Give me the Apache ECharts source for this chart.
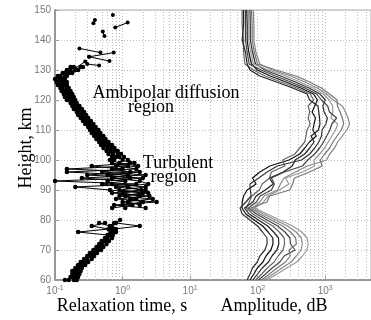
<!DOCTYPE html>
<html>
<head>
<meta charset="utf-8">
<script src="https://cdn.jsdelivr.net/npm/echarts@6/dist/echarts.min.js"></script>
<style>html,body{margin:0;padding:0;background:#fff;}#c{width:371px;height:320px;}</style>
</head>
<body>
<div id="c"></div>
<script>
// ---- Left data: relaxation time (s) vs height (km), four profiles ----
var tauHeights = [60,61,62,63,64,65,66,67,68,69,70,71,72,73,74,75,76,77,78,79,80,
  84,85,86,87,88,89,90,91,92,93,94,95,96,97,98,99,100,101,102,103,104,105,106,107,108,109,110,
  111,112,113,114,115,116,117,118,119,120,121,122,123,124,125,126,127,128,129,130,131];
var tauA = [0.16,0.17,0.18,0.2,0.21,0.22,0.24,0.27,0.3,0.33,0.37,0.41,0.45,0.49,0.55,0.6,0.22,0.62,0.35,0.55,null,
  0.7,1.4,1.0,2.8,0.9,2.0,0.65,0.2,1.6,0.1,1.3,0.6,1.8,0.15,1.2,0.7,0.75,0.7,0.62,0.58,0.52,0.48,0.45,0.41,0.38,0.35,0.33,
  0.31,0.28,0.26,0.24,0.22,0.21,0.19,0.18,0.17,0.15,0.14,0.135,0.125,0.12,0.11,0.105,0.1,0.11,0.13,0.15,0.17];
var tauB = [0.19,0.22,0.21,0.24,0.25,0.28,0.31,0.35,0.38,0.42,0.48,0.52,0.58,0.63,0.7,0.72,0.8,0.75,1.8,0.8,null,
  2.2,0.75,3.2,0.8,2.5,0.7,1.9,1.2,0.5,1.1,0.25,2.2,0.5,1.0,0.35,1.5,1.2,1.05,0.95,0.85,0.76,0.7,0.62,0.56,0.52,0.47,0.44,
  0.4,0.37,0.34,0.31,0.29,0.27,0.25,0.23,0.21,0.2,0.19,0.18,0.17,0.16,0.15,0.15,0.14,0.15,0.18,0.22,0.26];
var tauC = [0.21,0.19,0.23,0.21,0.23,0.26,0.27,0.3,0.34,0.37,0.42,0.46,0.5,0.55,0.6,0.65,0.7,0.68,0.7,0.75,0.92,
  null,1.8,1.2,1.6,1.1,2.4,0.9,2.2,0.7,0.6,2.0,0.3,1.3,0.7,1.7,0.9,0.65,0.8,0.72,0.66,0.6,0.55,0.5,0.46,0.42,0.39,0.36,
  0.33,0.31,0.28,0.26,0.24,0.22,0.21,0.19,0.18,0.17,0.16,0.15,0.14,0.13,0.125,0.12,0.115,0.12,0.14,0.17,0.19];
var tauD = [0.14,0.2,0.19,0.18,0.2,0.24,0.26,0.28,0.31,0.35,0.4,0.45,0.48,0.52,0.58,0.62,0.66,0.8,0.65,0.45,null,
  1.1,1.0,2.0,1.3,1.8,1.0,2.2,0.8,2.4,1.8,0.7,1.2,0.15,1.6,0.8,1.3,1.0,0.9,0.85,0.75,0.68,0.62,0.56,0.52,0.47,0.43,0.4,
  0.37,0.34,0.31,0.29,0.27,0.25,0.23,0.21,0.2,0.19,0.18,0.17,0.16,0.15,0.14,0.135,0.13,0.14,0.16,0.2,0.24];
// sparse points above 130 km (null separates segments)
var upperTau    = [0.72,null,0.39,0.37,null,0.78,1.19,null,0.51,0.54,null,0.23,0.47,null,0.32,0.74,null,0.32,0.64,null,0.2,0.28,null,0.3,0.45];
var upperHeight = [148.3,null,146.7,145.6,null,144.2,145.8,null,142.8,141.3,null,137.2,135.8,null,134.4,135.8,null,134.4,133,null,130.6,132.8,null,132,131.5];

// ---- Right data: amplitude profiles vs height (km) ----
var ampHeights = [60,62,64,66,68,70,72,74,76,78,80,82,84,86,88,90,92,94,96,98,100,102,104,106,108,110,112,114,116,118,120,122,124,126,128,130,132,136,140,145,150];
var amp1 = [77,88,99,120,133,157,169,168,143,119,89,67,59,59,62,70,95,84,108,152,291,421,499,585,740,656,685,720,640,700,770,673,437,263,154,99,81,74,70,70,69];
var amp2 = [94,115,139,176,201,237,251,248,209,167,119,85,68,75,82,106,117,150,160,253,235,355,421,498,520,540,600,560,590,560,674,603,380,223,129,87,65,62,62,59,59];
var amp3 = [70,77,84,99,108,128,138,138,118,100,77,59,55,67,80,78,77,104,138,196,446,591,700,806,883,900,1026,1080,967,924,1006,838,578,363,218,128,93,84,78,78,77];
var amp4 = [125,171,229,314,374,440,458,444,372,278,184,122,85,108,125,197,218,247,363,542,1050,1165,1380,1530,1790,2100,2300,2180,2000,1800,1313,1044,765,502,310,165,108,94,88,88,86];
var amp5 = [85,100,117,145,163,193,206,204,173,141,103,75,64,85,95,130,170,150,240,326,360,499,591,686,620,796,838,826,806,782,590,540,330,190,108,77,70,66,59,62,62];
var amp6 = [138,195,270,380,460,540,560,540,450,330,213,138,91,122,144,210,290,260,463,698,684,830,982,1110,1257,1425,1536,1218,1300,1289,1149,935,665,427,260,145,87,79,74,74,73];
var amp7 = [103,131,164,214,247,358,307,301,254,198,138,96,73,96,109,160,177,160,250,460,553,700,829,946,1054,1173,1255,1479,1160,1091,880,751,502,309,183,113,75,70,66,66,66];
var amp8 = [114,150,194,259,304,291,375,366,307,235,159,108,79,138,150,299,330,350,590,900,848,983,1164,1303,1500,1730,1880,1796,1668,1523,1500,1165,880,590,370,187,100,89,83,83,81];

// ---- Axis ticks ----
var yTicks = [60,70,80,90,100,110,120,130,140,150];
var xMin = 0.1, xMax = 4775;
var decadeTicks = [0.1,1,10,100,1000];
var minorGridValues = [0.2,0.3,0.4,0.5,0.6,0.7,0.8,0.9,2,3,4,5,6,7,8,9,20,30,40,50,60,70,80,90,200,300,400,500,600,700,800,900,2000,3000,4000];

function pairs(xs, ys){ var out=[]; for(var i=0;i<xs.length;i++){ out.push((xs[i]==null||ys[i]==null)?[NaN,NaN]:[xs[i],ys[i]]);} return out; }

var chart = echarts.init(document.getElementById('c'), null, {renderer:'canvas'});
var series = [];
var ampProfiles = [amp1,amp2,amp3,amp4,amp5,amp6,amp7,amp8];
var ampColors = ['#111','#666','#333','#888','#222','#999','#444','#777'];
ampProfiles.forEach(function(a, i){
  series.push({type:'line', data: pairs(a, ampHeights), showSymbol:false, symbol:'none', smooth:false,
    lineStyle:{color:ampColors[i], width:1.2}, silent:true, animation:false, z:3});
});
series[0].markLine = {silent:true, symbol:'none', animation:false,
  label:{show:false}, lineStyle:{type:[1,2], color:'#bbb', width:1},
  data: minorGridValues.map(function(v){ return {xAxis:v}; }), z:1};
[tauA,tauB,tauC,tauD].forEach(function(t){
  series.push({type:'line', data: pairs(t, tauHeights), symbol:'circle', symbolSize:4.5, showSymbol:true,
    itemStyle:{color:'#000'}, lineStyle:{color:'#000', width:1}, silent:true, animation:false, z:4});
});
series.push({type:'line', data: pairs(upperTau, upperHeight), symbol:'circle', symbolSize:4, showSymbol:true,
  itemStyle:{color:'#000'}, lineStyle:{color:'#000', width:1}, silent:true, animation:false, z:4});

var serif = '"Liberation Serif", "Times New Roman", serif';
function txt(t, x, y, rot){
  return {type:'text', x:x, y:y, rotation: rot||0, z:10, silent:true,
    style:{text:t, font:'18px ' + serif, fill:'#000', align:'center', verticalAlign:'middle', textAlign:'center', textVerticalAlign:'middle'}};
}

chart.setOption({
  animation:false,
  backgroundColor:'#fff',
  grid:{left:55, right:-1, top:10, bottom:40, show:true, borderColor:'#aaa', borderWidth:1},
  xAxis:{type:'log', logBase:10, min:xMin, max:xMax,
    axisLine:{show:true, lineStyle:{color:'#999', width:2}},
    axisTick:{show:true, inside:true, length:4, lineStyle:{color:'#999'}},
    splitLine:{show:true, lineStyle:{type:[1,2], color:'#bbb', width:1}},
    axisLabel:{showMaxLabel:false, color:'#777', margin:5, fontFamily:'"Liberation Sans", Arial, sans-serif',
      formatter:function(v){
        for (var i=0;i<decadeTicks.length;i++){ if (Math.abs(v-decadeTicks[i])<1e-9*decadeTicks[i]) { return '{b|10}{s|' + Math.round(Math.log10(v)) + '}'; } }
        return '';
      },
      rich:{b:{fontSize:10, color:'#777', fontFamily:'"Liberation Sans", Arial, sans-serif'},
            s:{fontSize:7, color:'#777', verticalAlign:'top', padding:[0,0,5,0], fontFamily:'"Liberation Sans", Arial, sans-serif'}}
    }
  },
  yAxis:{type:'value', min:60, max:150, interval:10,
    axisLine:{show:true, lineStyle:{color:'#999', width:2}},
    axisTick:{show:true, inside:true, length:4, lineStyle:{color:'#999'}},
    splitLine:{show:true, lineStyle:{type:[1,2], color:'#bbb', width:1}},
    axisLabel:{color:'#777', fontSize:10, margin:4, fontFamily:'"Liberation Sans", Arial, sans-serif',
      formatter:function(v){ return yTicks.indexOf(v)>=0 ? String(v) : ''; }}
  },
  graphic:[
    txt('Height, km', 26, 148, Math.PI/2),
    txt('Relaxation time, s', 122, 306),
    txt('Amplitude, dB', 274, 306),
    txt('Ambipolar diffusion', 166, 93),
    txt('region', 151, 107),
    txt('Turbulent', 178, 163.5),
    txt('region', 173.5, 177.5)
  ],
  series: series
});
</script>
</body>
</html>
